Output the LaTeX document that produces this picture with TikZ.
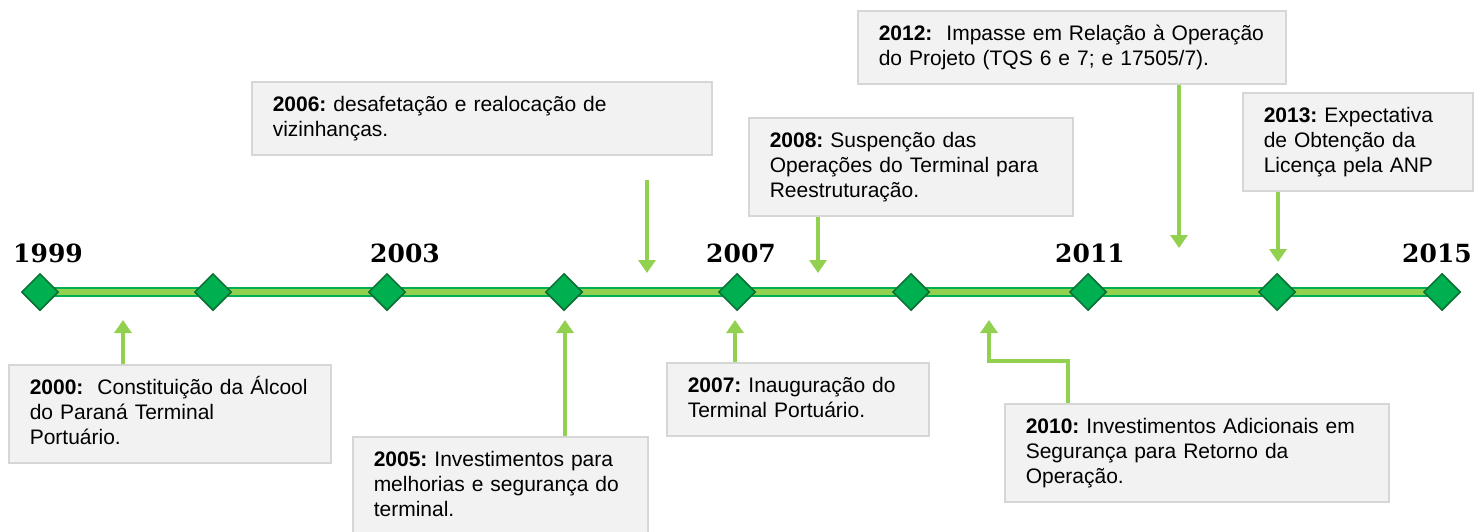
\documentclass[tikz,border=0pt]{standalone}
\usepackage{fontspec}
\setmainfont{Liberation Sans}
\newfontfamily\yearfont{DejaVu Serif}
\usetikzlibrary{positioning, shapes.geometric, arrows.meta, backgrounds}

\definecolor{linegreen}{HTML}{92D050}
\definecolor{markgreen}{HTML}{00B050}
\definecolor{markborder}{RGB}{10,110,50}
\definecolor{boxfill}{HTML}{F2F2F2}
\definecolor{boxborder}{HTML}{D6D6D6}

\tikzset{
    milestone/.style={diamond, draw=markborder, fill=markgreen, line width=1.5pt,
                      minimum width=37pt, minimum height=37pt, inner sep=0pt},
    year/.style={font=\yearfont\bfseries\fontsize{25}{30}\selectfont, anchor=base, inner sep=0pt},
    event/.style={draw=boxborder, fill=boxfill, line width=1.5pt, anchor=north west,
                  align=left, inner xsep=21pt, inner ysep=10pt, text height=20pt,
                  font=\fontsize{21}{24.8}\selectfont},
    twolines/.style={text depth=33.2pt},
    threelines/.style={text depth=58pt},
    pointer/.style={draw=linegreen, line width=4pt, -{Triangle[length=13pt, width=17pt]}},
    timebar/.style={draw=markgreen, line width=2pt, double=linegreen, double distance=6pt}
}

\begin{document}
\frenchspacing
\hyphenpenalty=10000
\exhyphenpenalty=10000
\begin{tikzpicture}[x=1pt, y=-1pt]
    \useasboundingbox (0,0) rectangle (1474,531);

    \foreach \x [count=\i] in {40,213,387,564,737,911,1088,1277,1442}
        \node[milestone] (d\i) at (\x,292) {};
    \begin{scope}[on background layer]
        \draw[timebar] (d1.center) -- (d9.center);
    \end{scope}

    \node[year] (y1999) at (48,262) {1999};
    \node[year] (y2003) at (405,262) {2003};
    \node[year] (y2007) at (741,262) {2007};
    \node[year] (y2011) at (1090,262) {2011};
    \node[year, anchor=base east] (y2015) at (1472,262) {2015};

    \node[event, threelines, text width=280pt] (b2000) at (8,364)
        {\mbox{\textbf{2000:}\ \ Constituição da Álcool}\\do Paraná Terminal\\Portuário.};
    \node[event, threelines, text width=253pt] (b2005) at (352,436)
        {\textbf{2005:} Investimentos para\\melhorias e segurança do\\terminal.};
    \node[event, twolines, text width=418pt] (b2006) at (251,81)
        {\textbf{2006:} desafetação e realocação de\\vizinhanças.};
    \node[event, twolines, text width=220pt] (b2007) at (666,362)
        {\textbf{2007:} Inauguração do\\Terminal Portuário.};
    \node[event, threelines, text width=282pt] (b2008) at (748,117)
        {\textbf{2008:} Suspenção das\\Operações do Terminal para\\Reestruturação.};
    \node[event, threelines, text width=342pt] (b2010) at (1004,403)
        {\textbf{2010:} Investimentos Adicionais em\\Segurança para Retorno da\\Operação.};
    \node[event, twolines, text width=386pt] (b2012) at (857,10)
        {\mbox{\textbf{2012:}\ \ Impasse em Relação à Operação}\\do Projeto (TQS 6 e 7; e 17505/7).};
    \node[event, threelines, text width=188pt] (b2013) at (1242,92)
        {\textbf{2013:} Expectativa\\de Obtenção da\\Licença pela ANP};

    % arrow tips
    \coordinate (t2000) at (123,320);
    \coordinate (t2005) at (565,320);
    \coordinate (s2006) at (647,180);
    \coordinate (t2006) at (647,273);
    \coordinate (t2007) at (735,320);
    \coordinate (t2008) at (818,273);
    \coordinate (k2010) at (1068,361);
    \coordinate (t2010) at (989,320);
    \coordinate (t2012) at (1179,248);
    \coordinate (t2013) at (1278,262);

    \draw[pointer] (b2000.north -| t2000) -- (t2000);
    \draw[pointer] (b2005.north -| t2005) -- (t2005);
    \draw[pointer] (s2006) -- (t2006);
    \draw[pointer] (b2007.north -| t2007) -- (t2007);
    \draw[pointer] (b2008.south -| t2008) -- (t2008);
    \draw[pointer] (b2010.north -| k2010) -- (k2010) -| (t2010);
    \draw[pointer] (b2012.south -| t2012) -- (t2012);
    \draw[pointer] (b2013.south -| t2013) -- (t2013);
\end{tikzpicture}
\end{document}
